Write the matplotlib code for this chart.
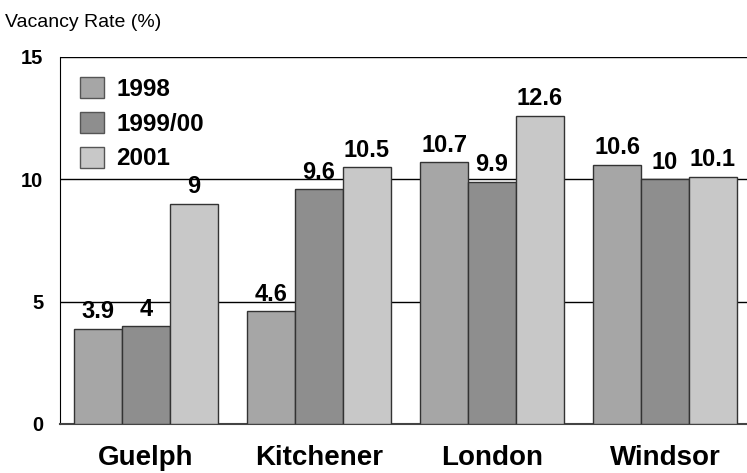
import numpy as np
import matplotlib.pyplot as plt
from matplotlib.patches import Patch

cities = ["Guelph", "Kitchener", "London", "Windsor"]
series_names = ["1998", "1999/00", "2001"]
rate_1998 = [3.9, 4.6, 10.7, 10.6]
rate_1999 = [4.0, 9.6, 9.9, 10.0]
rate_2001 = [9.0, 10.5, 12.6, 10.1]
labels_1998 = ["3.9", "4.6", "10.7", "10.6"]
labels_1999 = ["4", "9.6", "9.9", "10"]
labels_2001 = ["9", "10.5", "12.6", "10.1"]

colors = ["#a6a6a6", "#8e8e8e", "#c8c8c8"]
plt.rcParams['font.family'] = ['Liberation Sans', 'DejaVu Sans']

fig = plt.figure(figsize=(7.47, 4.73), dpi=100)
ax = fig.add_axes([0.0803, 0.1036, 0.9197, 0.7759])

x = np.arange(len(cities))
w = 0.277
all_vals = [rate_1998, rate_1999, rate_2001]
all_labels = [labels_1998, labels_1999, labels_2001]
for i, (vals, labs) in enumerate(zip(all_vals, all_labels)):
    pos = x + (i - 1) * w
    ax.bar(pos, vals, width=w, color=colors[i], edgecolor="#333333",
           linewidth=1, zorder=3)
    for p, v, lab in zip(pos, vals, labs):
        ax.annotate(lab, (p, v), xytext=(0, 4), textcoords="offset points",
                    ha="center", va="bottom", fontsize=17, fontweight="bold",
                    zorder=4)

ax.set_xlim(-0.497, 3.474)
ax.set_ylim(0, 15)
ax.set_yticks([0, 5, 10, 15])
for yv in [5, 10, 15]:
    ax.axhline(yv, color="black", linewidth=1, zorder=1)
ax.set_xticks(x)
ax.set_xticklabels(cities, fontsize=20, fontweight="bold")
ax.tick_params(axis="x", length=0, pad=15)
ax.tick_params(axis="y", length=0, pad=12, labelsize=14.5)
for t in ax.get_yticklabels():
    t.set_fontweight("bold")
ax.spines["top"].set_visible(False)
ax.spines["right"].set_visible(False)
ax.spines["left"].set_color("black")
ax.spines["bottom"].set_color("#444444")
ax.spines["bottom"].set_linewidth(1.5)

handles = [Patch(facecolor=c, edgecolor="#555555", linewidth=1) for c in colors]
ax.legend(handles, series_names, loc="upper left", bbox_to_anchor=(-0.003, 1.005),
          frameon=False, prop={"size": 17.5, "weight": "bold"},
          handlelength=1.0, handleheight=0.95, handletextpad=0.5,
          labelspacing=0.45, borderpad=0.4)

fig.text(0.007, 0.953, "Vacancy Rate (%)", fontsize=14, va="center", ha="left")

fig.savefig("out.png", dpi=100)
